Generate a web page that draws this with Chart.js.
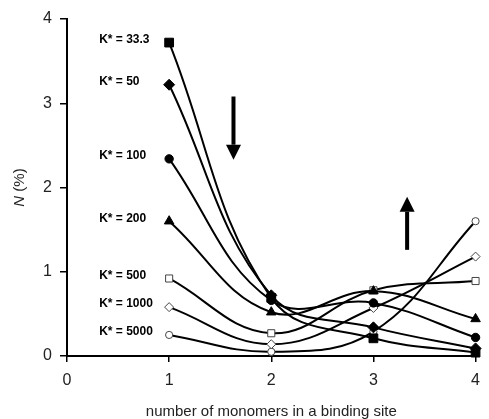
<!DOCTYPE html>
<html lang="en">
<head>
    <meta charset="UTF-8">
    <title>Binding site occupancy</title>
    <script src="https://cdn.jsdelivr.net/npm/chart.js"></script>
    <style>
        html, body { margin: 0; padding: 0; background: #fff; }
        canvas { display: block; }
    </style>
</head>
<body>
    <canvas id="chart" width="489" height="419"></canvas>
    <script>
        // monomers per binding site
        const sizes = [1, 2, 3, 4];

        // N (%) for each K* value
        const kLabels = ['33.3', '50', '100', '200', '500', '1000', '5000'];
        const k33 = [3.72, 0.69, 0.21, 0.04];
        const k50 = [3.22, 0.72, 0.34, 0.09];
        const k100 = [2.34, 0.66, 0.63, 0.22];
        const k200 = [1.60, 0.52, 0.77, 0.44];
        const k500 = [0.92, 0.27, 0.78, 0.89];
        const k1000 = [0.58, 0.14, 0.57, 1.18];
        const k5000 = [0.25, 0.05, 0.29, 1.60];

        // trend arrows, in data units: [x, yTail, yHead]
        const arrowDown = [1.63, 3.08, 2.33];
        const arrowUp = [3.33, 1.26, 1.89];

        const seriesValues = [k33, k50, k100, k200, k500, k1000, k5000];
        const markers = [
            { style: 'rect', radius: 6.2, fill: '#000', border: '#000', bw: 1 },
            { style: 'rectRot', radius: 5.5, fill: '#000', border: '#000', bw: 1 },
            { style: 'circle', radius: 4.2, fill: '#000', border: '#000', bw: 1 },
            { style: 'triangle', radius: 5.5, fill: '#000', border: '#000', bw: 1 },
            { style: 'rect', radius: 5, fill: '#fff', border: '#444', bw: 1 },
            { style: 'rectRot', radius: 4.5, fill: '#fff', border: '#444', bw: 1 },
            { style: 'circle', radius: 3.6, fill: '#fff', border: '#444', bw: 1 }
        ];

        const datasets = seriesValues.map((vals, i) => ({
            label: 'K* = ' + kLabels[i],
            data: vals.map((v, j) => ({ x: sizes[j], y: v })),
            borderColor: '#000',
            borderWidth: 2,
            tension: 0.4,
            pointStyle: markers[i].style,
            pointRadius: markers[i].radius,
            pointBackgroundColor: markers[i].fill,
            pointBorderColor: markers[i].border,
            pointBorderWidth: markers[i].bw,
            clip: false
        }));

        // K* labels to the left of the first point of each curve
        const seriesLabels = {
            id: 'seriesLabels',
            afterDatasetsDraw(chart) {
                const ctx = chart.ctx;
                const xs = chart.scales.x, ys = chart.scales.y;
                ctx.save();
                ctx.font = 'bold 12px "Liberation Sans", Arial, sans-serif';
                ctx.fillStyle = '#000';
                ctx.textAlign = 'left';
                ctx.textBaseline = 'middle';
                chart.data.datasets.forEach(ds => {
                    const px = xs.getPixelForValue(ds.data[0].x) - 70;
                    const py = ys.getPixelForValue(ds.data[0].y) - 3;
                    ctx.fillText(ds.label, px, py);
                });
                ctx.restore();
            }
        };

        function drawArrow(ctx, x, y0, y1) {
            const dir = y1 > y0 ? 1 : -1;
            const headLen = 15, headW = 7.5, shaft = 2;
            const yBase = y1 - dir * headLen;
            ctx.fillRect(x - shaft, Math.min(y0, yBase), shaft * 2, Math.abs(yBase - y0));
            ctx.beginPath();
            ctx.moveTo(x - headW, yBase);
            ctx.lineTo(x + headW, yBase);
            ctx.lineTo(x, y1);
            ctx.closePath();
            ctx.fill();
        }

        const arrows = {
            id: 'arrows',
            afterDatasetsDraw(chart) {
                const ctx = chart.ctx;
                const xs = chart.scales.x, ys = chart.scales.y;
                ctx.save();
                ctx.fillStyle = '#000';
                [arrowDown, arrowUp].forEach(a => {
                    drawArrow(ctx, xs.getPixelForValue(a[0]), ys.getPixelForValue(a[1]), ys.getPixelForValue(a[2]));
                });
                ctx.restore();
            }
        };

        // y axis title with italic N
        const yTitle = {
            id: 'yTitle',
            afterDraw(chart) {
                const ctx = chart.ctx;
                const ca = chart.chartArea;
                ctx.save();
                ctx.translate(20, (ca.top + ca.bottom) / 2);
                ctx.rotate(-Math.PI / 2);
                ctx.fillStyle = '#222';
                ctx.textBaseline = 'middle';
                ctx.textAlign = 'left';
                const a = 'N', b = ' (%)';
                ctx.font = 'italic 15px "Liberation Sans", Arial, sans-serif';
                const wa = ctx.measureText(a).width;
                ctx.font = '15px "Liberation Sans", Arial, sans-serif';
                const wb = ctx.measureText(b).width;
                const x = -(wa + wb) / 2;
                ctx.font = 'italic 15px "Liberation Sans", Arial, sans-serif';
                ctx.fillText(a, x, 0);
                ctx.font = '15px "Liberation Sans", Arial, sans-serif';
                ctx.fillText(b, x + wa, 0);
                ctx.restore();
            }
        };

        const tickFont = { family: '"Liberation Sans", Arial, sans-serif', size: 16 };
        const titleFont = { family: '"Liberation Sans", Arial, sans-serif', size: 15 };

        new Chart(document.getElementById('chart'), {
            type: 'line',
            data: { datasets },
            options: {
                responsive: false,
                animation: false,
                devicePixelRatio: 1,
                layout: { padding: { top: 19, right: 3, left: 0, bottom: 0 } },
                plugins: {
                    legend: { display: false },
                    tooltip: { enabled: false }
                },
                scales: {
                    x: {
                        type: 'linear',
                        min: 0,
                        max: 4,
                        ticks: { stepSize: 1, color: '#222', font: tickFont, padding: 9 },
                        grid: { drawOnChartArea: false, drawTicks: true, tickLength: 6, color: '#000', lineWidth: 1.5 },
                        border: { color: '#000', width: 2 },
                        title: {
                            display: true,
                            text: 'number of monomers in a binding site',
                            color: '#222',
                            font: titleFont,
                            padding: { top: 6, bottom: -2 }
                        },
                        afterFit(scale) { scale.height = 63; }
                    },
                    y: {
                        min: 0,
                        max: 4,
                        ticks: { stepSize: 1, color: '#222', font: tickFont, padding: 8 },
                        grid: { drawOnChartArea: false, drawTicks: true, tickLength: 7, color: '#000', lineWidth: 1.5 },
                        border: { color: '#000', width: 2 },
                        afterFit(scale) { scale.width = 67; }
                    }
                }
            },
            plugins: [seriesLabels, arrows, yTitle]
        });
    </script>
</body>
</html>
